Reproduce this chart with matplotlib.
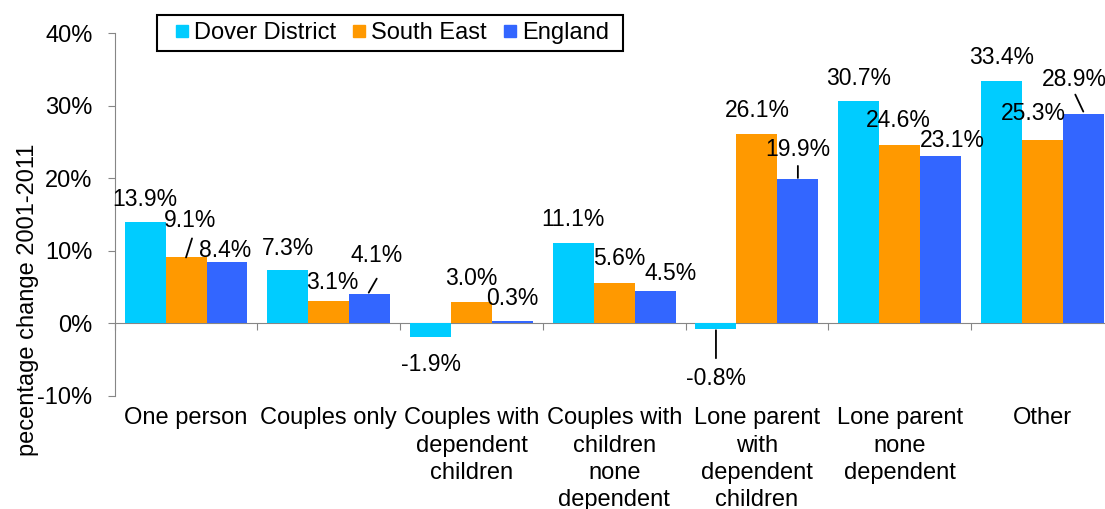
import matplotlib
matplotlib.use("Agg")
import matplotlib.pyplot as plt
from matplotlib.lines import Line2D
from matplotlib.patches import Rectangle
from matplotlib.transforms import offset_copy
import numpy as np

# --- data ---
categories = ["One person", "Couples only", "Couples with\ndependent\nchildren",
              "Couples with\nchildren\nnone\ndependent",
              "Lone parent\nwith\ndependent\nchildren",
              "Lone parent\nnone\ndependent", "Other"]
series_names = ["Dover District", "South East", "England"]
dover = [13.9, 7.3, -1.9, 11.1, -0.8, 30.7, 33.4]
south_east = [9.1, 3.1, 3.0, 5.6, 26.1, 24.6, 25.3]
england = [8.4, 4.1, 0.3, 4.5, 19.9, 23.1, 28.9]
colors = ["#00CCFF", "#FF9900", "#3366FF"]

# label offsets in pixels from the bar end (dx, dy with y up), one row per category
label_offsets = [
    [(0, 25), (4, 39), (-2, 14)],
    [(0, 24), (4, 20), (7, 40)],
    [(0, -25), (0, 25), (0, 25)],
    [(0, 25), (5, 26), (15, 19)],
    [(0, -47), (0, 25), (0, 31)],
    [(0, 24), (-1, 26), (12, 17)],
    [(0, 25), (-9, 28), (-9, 36)],
]
# leader lines: (category, series) -> (start offset, end offset) in pixels from bar end
leaders = {
    (0, 2): ((-35, 24), (-41, 5)),
    (1, 2): ((7, 15), (-1, 1)),
    (4, 0): ((0, -29), (0, -1)),
    (4, 2): ((0, 13), (0, 1)),
    (6, 2): ((-8, 19), (0, 2)),
}

plt.rcParams['font.family'] = ['Liberation Sans', 'DejaVu Sans']
GREY = "#868686"

fig = plt.figure(figsize=(11.05, 5.09), dpi=100)
ax = fig.add_axes([114.7 / 1105, 113 / 509, 999 / 1105, 363 / 509])

series = [dover, south_east, england]
width = 0.287
x = np.arange(len(categories))
for j, (vals, col) in enumerate(zip(series, colors)):
    ax.bar(x + (j - 1) * width, vals, width, color=col, zorder=2)

ax.set_xlim(-0.5, len(categories) - 0.5)
ax.set_ylim(-10, 40)
ax.set_yticks([-10, 0, 10, 20, 30, 40])
ax.set_yticklabels([f"{v}%" for v in [-10, 0, 10, 20, 30, 40]])
ax.tick_params(axis='y', labelsize=17, length=5, color=GREY, pad=11)
ax.set_xticks(x)
ax.set_xticklabels(categories)
ax.tick_params(axis='x', labelsize=17, length=0, pad=8)
for lab in ax.get_xticklabels():
    lab.set_linespacing(1.32)
for s in ['top', 'right', 'bottom']:
    ax.spines[s].set_visible(False)
ax.spines['left'].set_color(GREY)

# zero line with category separators
zero_ax = ax.secondary_xaxis(0.2)
zero_ax.set_xticks(np.arange(-0.5, len(categories)))
zero_ax.set_xticklabels([])
zero_ax.tick_params(length=5, color=GREY, direction='out')
zero_ax.spines['bottom'].set_color(GREY)

# data labels
for i in range(len(categories)):
    for j, vals in enumerate(series):
        v = vals[i]
        xb = x[i] + (j - 1) * width
        dx, dy = label_offsets[i][j]
        ax.annotate(f"{v:.1f}%", xy=(xb, v), xytext=(dx, dy - 8.5),
                    textcoords='offset pixels', ha='center', va='baseline',
                    fontsize=16.5, zorder=5)
        if (i, j) in leaders:
            (sx, sy), (ex, ey) = leaders[(i, j)]
            ax.annotate('', xy=(xb, v),
                        xycoords=offset_copy(ax.transData, fig=fig, x=ex, y=ey, units='dots'),
                        xytext=(xb, v),
                        textcoords=offset_copy(ax.transData, fig=fig, x=sx, y=sy, units='dots'),
                        arrowprops=dict(arrowstyle='-', color='black', lw=1.3,
                                        shrinkA=0, shrinkB=0))

fig.text(28 / 1105, 1 - 300 / 509, "pecentage change 2001-2011", rotation=90,
         ha='center', va='center', fontsize=17)

# legend
handles = [Line2D([], [], marker='s', ls='', markersize=8.6, color=c) for c in colors]
fig.legend(handles, series_names, loc='center', ncol=3, frameon=False,
           bbox_to_anchor=(390 / 1105, 1 - 33 / 509), fontsize=17,
           handlelength=0.9, handletextpad=0.06, columnspacing=0.53, borderpad=0)
fig.patches.append(Rectangle((157 / 1105, 1 - 51 / 509), 466 / 1105, 36 / 509,
                             transform=fig.transFigure, fill=False, ec='black', lw=1.5))

fig.savefig("out.png", dpi=100)
